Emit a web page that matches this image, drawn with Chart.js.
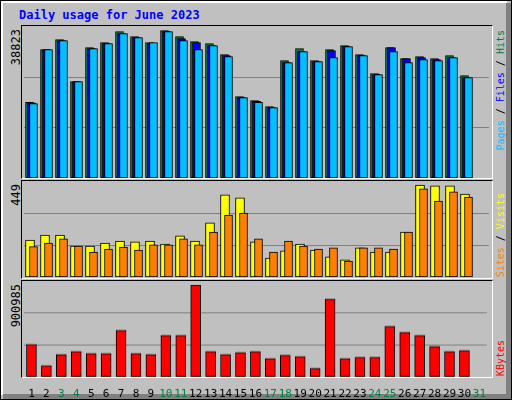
<!DOCTYPE html>
<html>
<head>
<meta charset="utf-8">
<script src="https://cdn.jsdelivr.net/npm/chart.js@4"></script>
<style>
  html, body { margin: 0; padding: 0; }
  body { width: 512px; height: 400px; overflow: hidden; }
  #page { position: absolute; left: 0; top: 0; width: 510px; height: 398px; background: #c0c0c0;
          border: 1px solid #000; }
  #page:before { content: ''; position: absolute; left: 0; top: 0; right: 4px; bottom: 4px;
          border-top: 2px solid #fff; border-left: 2px solid #fff; }
  #shadeR { position: absolute; right: 0; top: 2px; width: 5px; bottom: 0; background: #808080; }
  #shadeB { position: absolute; left: 2px; bottom: 0; height: 5px; right: 0; background: #808080; }
  .mono { font-family: "DejaVu Sans Mono", monospace; }
  #title { position: absolute; left: 18px; top: 7px; font-size: 12px; font-weight: bold; color: #0000ff; }
  .panel { position: absolute; left: 20px; width: 470px; border-top: 1px solid #000; border-left: 1px solid #000;
           border-right: 1px solid #fff; border-bottom: 1px solid #fff; }
  canvas { position: absolute; }
  .vert { position: absolute; writing-mode: vertical-rl; transform: rotate(180deg); white-space: nowrap; }
  .maxlab { font-size: 12px; color: #000; left: 8px; }
  .legend { font-size: 10px; left: 494px; }
</style>
</head>
<body>
<div id="page">
  <div id="shadeR"></div><div id="shadeB"></div>
  <div id="title" class="mono">Daily usage for June 2023</div>
  <div class="panel" style="top:24px;height:152px"></div>
  <div class="panel" style="top:179px;height:97px"></div>
  <div class="panel" style="top:279px;height:96px"></div>
  <canvas id="c1"></canvas>
  <canvas id="c2"></canvas>
  <canvas id="c3"></canvas>
  <div id="max1" class="vert mono maxlab" style="top:28px"></div>
  <div id="max2" class="vert mono maxlab" style="top:183px"></div>
  <div id="max3" class="vert mono maxlab" style="top:283px"></div>
  <div class="vert mono legend" style="top:29px"><span style="color:#00c0ff">Pages</span> / <span style="color:#0000ff">Files</span> / <span style="color:#008040">Hits</span></div>
  <div class="vert mono legend" style="bottom:122px"><span style="color:#ff8000">Sites</span> / <span style="color:#ffff00">Visits</span></div>
  <div class="vert mono legend" style="bottom:23px"><span style="color:#ff0000">KBytes</span></div>
</div>
<script>
// 数据
const days = Array.from({ length: 31 }, (_, i) => i + 1);
const weekendDays = [3, 4, 10, 11, 17, 18, 24, 25, 31];
const maxHits = 38823;
const maxVisits = 449;
const maxKBytes = 900985;

const hits = [19460, 33010, 35580, 24780, 33520, 34810, 37640, 36350, 34810, 37900,
              36350, 35070, 34550, 31730, 20930, 19900, 18360, 30180, 33260, 30180,
              33010, 34040, 31730, 26840, 33520, 30700, 31210, 30700, 31470, 26330];
const files = [19300, 33010, 35320, 24780, 33260, 34550, 37120, 36090, 34550, 37640,
               35840, 34810, 34040, 31470, 20670, 19700, 18100, 29670, 32500, 29930,
               32750, 33780, 31470, 26580, 33520, 30700, 30950, 30440, 30950, 25810];
const pages = [19130, 33010, 35320, 24780, 33260, 34550, 37120, 36090, 34810, 37640,
               35320, 33010, 34040, 31210, 20670, 19460, 18100, 29670, 32500, 29930,
               30950, 33780, 31470, 26580, 32500, 29670, 30440, 30180, 30950, 25810];
const visits = [173, 196, 196, 145, 145, 159, 168, 164, 168, 154,
                192, 168, 253, 384, 370, 164, 89, 122, 154, 126,
                94, 80, 136, 117, 117, 210, 430, 426, 426, 388];
const sites = [142, 159, 178, 145, 117, 131, 140, 126, 150, 150,
               178, 150, 210, 290, 299, 178, 117, 168, 145, 131,
               136, 75, 136, 136, 131, 210, 412, 355, 398, 374];
const kbytes = [305000, 107000, 211000, 239000, 220000, 220000, 438000, 220000, 211000, 391000,
                391000, 863000, 239000, 211000, 230000, 239000, 173000, 202000, 192000, 79000,
                731000, 173000, 183000, 183000, 476000, 419000, 391000, 287000, 239000, 249000];

document.getElementById('max1').textContent = maxHits;
document.getElementById('max2').textContent = maxVisits;
document.getElementById('max3').textContent = maxKBytes;

const SLOT = 15;
const LEFT = 23;
const WIDTH = 465;

function place(id, top, height) {
    const c = document.getElementById(id);
    c.width = WIDTH; c.height = height;
    c.style.left = LEFT + 'px'; c.style.top = top + 'px';
    c.style.width = WIDTH + 'px'; c.style.height = height + 'px';
    return c.getContext('2d');
}

// x 轴按像素偏移
function xAxis(shiftPx, showTicks) {
    const s = -shiftPx / SLOT;
    const axis = {
        type: 'linear', min: 0.5 + s, max: 31.5 + s,
        offset: false,
        display: !!showTicks,
        grid: { display: false },
        border: { display: false }
    };
    if (showTicks) {
        axis.afterBuildTicks = scale => { scale.ticks = days.map(d => ({ value: d })); };
        axis.afterFit = scale => { scale.height = 22; };
        axis.ticks = {
            autoSkip: false, maxRotation: 0, padding: 3,
            font: { family: 'DejaVu Sans Mono', size: 11 },
            color: ctx => weekendDays.includes(ctx.tick.value) ? '#008040' : '#000',
            callback: v => String(v)
        };
    }
    return axis;
}

function yAxis(max) {
    return {
        min: 0, max: max,
        afterBuildTicks: scale => { scale.ticks = [{ value: max / 3 }, { value: 2 * max / 3 }]; },
        afterFit: scale => { scale.width = 0; },
        ticks: { display: false },
        border: { display: false },
        grid: { color: '#808080', lineWidth: 1, drawTicks: false }
    };
}

function bars(label, data, color, axisId, thickness, order) {
    return {
        label: label,
        data: data.map((v, i) => ({ x: days[i], y: v })),
        xAxisID: axisId,
        backgroundColor: color,
        borderColor: '#000',
        borderWidth: 1,
        borderSkipped: false,
        barThickness: thickness,
        grouped: false,
        order: order
    };
}

function makeChart(ctx, datasets, scales) {
    return new Chart(ctx, {
        type: 'bar',
        data: { datasets: datasets },
        options: {
            responsive: false,
            animation: false,
            layout: { padding: 0 },
            scales: scales,
            plugins: { legend: { display: false }, tooltip: { enabled: false } }
        }
    });
}

makeChart(place('c1', 25.6, 151), [
    bars('Hits', hits, '#008040', 'xh', 8, 3),
    bars('Files', files, '#0000ff', 'xf', 8, 2),
    bars('Pages', pages, '#00c0ff', 'xp', 8, 1)
], { xh: xAxis(-2), xf: xAxis(0), xp: xAxis(2), y: yAxis(maxHits) });

makeChart(place('c2', 180.3, 96), [
    bars('Visits', visits, '#ffff00', 'xv', 9, 2),
    bars('Sites', sites, '#ff8000', 'xs', 8, 1)
], { xv: xAxis(-1.5), xs: xAxis(2), y: yAxis(maxVisits) });

makeChart(place('c3', 280.3, 95.4 + 22), [
    bars('KBytes', kbytes, '#ff0000', 'xk', 10, 1)
], { xk: xAxis(0, true), y: yAxis(maxKBytes) });
</script>
</body>
</html>
